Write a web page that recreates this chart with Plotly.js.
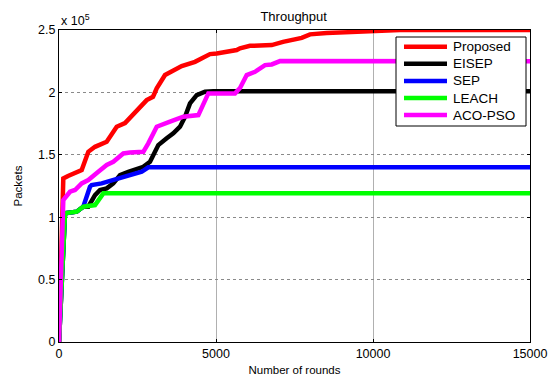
<!DOCTYPE html>
<html>
<head>
<meta charset="utf-8">
<script src="https://cdn.plot.ly/plotly-3.0.1.min.js"></script>
<style>html,body{margin:0;padding:0;background:#fff;}#chart{width:551px;height:378px;}</style>
</head>
<body>
<div id="chart"></div>
<script>
// Values in units of 10^5 packets
const proposedX = [0, 137, 287, 723, 933, 1147, 1519, 1720, 1838, 2102, 2421, 2739, 2793, 2994, 3112, 3376, 3589, 3908, 4332, 4650, 4810, 5023, 5660, 5765, 6083, 6775, 7134, 7730, 7994, 8526, 10000, 10860, 15000];
const proposedY = [0, 1.311, 1.330, 1.378, 1.524, 1.564, 1.604, 1.674, 1.725, 1.754, 1.834, 1.925, 1.938, 1.965, 2.032, 2.139, 2.165, 2.211, 2.245, 2.285, 2.307, 2.312, 2.339, 2.353, 2.373, 2.379, 2.405, 2.437, 2.465, 2.475, 2.491, 2.499, 2.500];

const eisepX = [0, 191, 564, 774, 933, 1040, 1147, 1306, 1519, 1729, 1943, 2207, 2421, 2685, 2898, 3058, 3163, 3430, 3640, 3854, 4013, 4172, 4386, 4650, 4914, 15000];
const eisepY = [0, 1.031, 1.044, 1.084, 1.084, 1.124, 1.177, 1.218, 1.231, 1.271, 1.338, 1.364, 1.383, 1.404, 1.444, 1.538, 1.578, 1.632, 1.672, 1.725, 1.805, 1.912, 1.978, 2.005, 2.010, 2.010];

const sepX = [0, 191, 564, 774, 987, 1040, 1360, 1729, 2102, 2421, 2634, 2844, 15000];
const sepY = [0, 1.031, 1.044, 1.084, 1.244, 1.258, 1.271, 1.298, 1.324, 1.346, 1.364, 1.400, 1.400];

const leachX = [0, 191, 564, 774, 1147, 1252, 1411, 15000];
const leachY = [0, 1.031, 1.044, 1.084, 1.097, 1.137, 1.191, 1.191];

const acoX = [0, 137, 350, 510, 723, 933, 1252, 1519, 1729, 2048, 2261, 2685, 2844, 3003, 3112, 3535, 3959, 4437, 4596, 4755, 5606, 5765, 5978, 6243, 6561, 6775, 7039, 15000];
const acoY = [0, 1.137, 1.204, 1.218, 1.271, 1.298, 1.364, 1.418, 1.444, 1.511, 1.519, 1.524, 1.592, 1.684, 1.725, 1.765, 1.805, 1.818, 1.898, 1.992, 1.992, 2.035, 2.139, 2.165, 2.219, 2.224, 2.251, 2.250];

const names = ['Proposed', 'EISEP', 'SEP', 'LEACH', 'ACO-PSO'];
const colors = ['#ff0000', '#000000', '#0000ff', '#00ff00', '#ff00ff'];
const xs = [proposedX, eisepX, sepX, leachX, acoX];
const ys = [proposedY, eisepY, sepY, leachY, acoY];

const xTicks = [0, 5000, 10000, 15000];
const yTicks = [0, 0.5, 1, 1.5, 2, 2.5];
const yTickText = ['0', '0.5', '1', '1.5', '2', '2.5'];

const traces = names.map((n, i) => ({
  x: xs[i], y: ys[i], name: n, type: 'scatter', mode: 'lines',
  line: {color: colors[i], width: 4.5}, showlegend: false
}));

const fam = 'Liberation Sans, Arial, sans-serif';
const tickFont = {family: fam, size: 12.5, color: '#000'};
const axFont = {family: fam, size: 11.5, color: '#000'};

// Legend drawn in paper coordinates (layout only)
const plotL = 59, plotR = 530, plotT = 30, plotB = 342;
const px = v => (v - plotL) / (plotR - plotL);
const py = v => (plotB - v) / (plotB - plotT);
const legBox = {x0: 396, x1: 526, y0: 37, y1: 126};
const legRow0 = 46.7, legRowStep = 17.1;
const shapes = [{
  type: 'rect', xref: 'paper', yref: 'paper',
  x0: px(legBox.x0), x1: px(legBox.x1), y0: py(legBox.y1), y1: py(legBox.y0),
  line: {color: '#000', width: 1}, fillcolor: '#fff', layer: 'above'
}];
const annotations = [{
  text: 'x 10<sup>5</sup>', xref: 'paper', yref: 'paper', x: 0, y: 1, xanchor: 'left', yanchor: 'bottom',
  showarrow: false, font: {family: fam, size: 12.5, color: '#000'}, yshift: 0
}];
names.forEach((n, i) => {
  const yy = py(legRow0 + i * legRowStep);
  shapes.push({type: 'line', xref: 'paper', yref: 'paper', x0: px(404), x1: px(447), y0: yy, y1: yy,
    line: {color: colors[i], width: 4.5}, layer: 'above'});
  annotations.push({text: n, xref: 'paper', yref: 'paper', x: px(451), y: yy, xanchor: 'left', yanchor: 'middle',
    showarrow: false, font: {family: fam, size: 13.5, color: '#000'}});
});

const layout = {
  width: 551, height: 378,
  margin: {l: plotL, r: 551 - plotR, t: plotT, b: 378 - plotB},
  paper_bgcolor: '#fff', plot_bgcolor: '#fff',
  font: axFont,
  showlegend: false,
  title: {text: 'Throughput', font: {family: fam, size: 13, color: '#000'}, x: 0.533, xanchor: 'center', y: 1 - 16.5/378, yanchor: 'middle'},
  xaxis: {
    range: [0, 15000], tickvals: xTicks, ticktext: xTicks.map(String),
    showline: true, linecolor: '#000', linewidth: 1, mirror: 'ticks',
    ticks: 'inside', ticklen: 3, tickcolor: '#000',
    showgrid: true, gridcolor: '#b0b0b0', gridwidth: 1, griddash: 'solid',
    zeroline: false, tickfont: tickFont,
    title: {text: 'Number of rounds', font: axFont, standoff: 5}
  },
  yaxis: {
    range: [0, 2.5], tickvals: yTicks, ticktext: yTickText,
    showline: true, linecolor: '#000', linewidth: 1, mirror: 'ticks',
    ticks: 'inside', ticklen: 3, tickcolor: '#000',
    showgrid: true, gridcolor: '#8a8a8a', gridwidth: 1, griddash: 'dot',
    zeroline: false, tickfont: tickFont,
    title: {text: 'Packets', font: axFont, standoff: 13}
  },
  shapes: shapes,
  annotations: annotations
};

Plotly.newPlot('chart', traces, layout, {displayModeBar: false, staticPlot: true});
</script>
</body>
</html>
